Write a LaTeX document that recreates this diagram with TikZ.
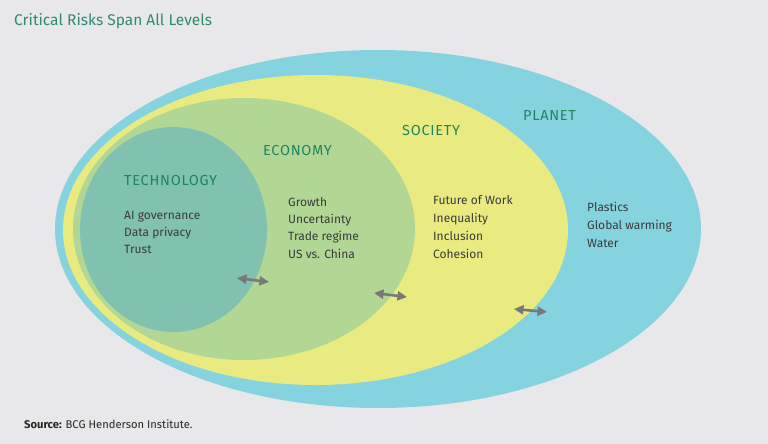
\documentclass[tikz,border=0pt]{standalone}
\usepackage{fontspec}
\setmainfont{Fira Sans}
\newfontfamily\headfont[LetterSpace=5]{Fira Sans}
\usetikzlibrary{shapes.geometric,arrows.meta}
\definecolor{bgc}{HTML}{E8E8EA}
\definecolor{planetc}{HTML}{86D3E0}
\definecolor{societyc}{HTML}{E9EB81}
\definecolor{economyc}{HTML}{B2D794}
\definecolor{techc}{HTML}{80C2AF}
\definecolor{titlec}{HTML}{2E8C6C}
\definecolor{headc}{HTML}{1F8560}
\definecolor{bodyc}{HTML}{3A3A3A}
\definecolor{arrc}{HTML}{787878}
\tikzset{
  ring/.style={ellipse, inner sep=0pt, draw=none},
  head/.style={anchor=base west, inner sep=0pt, text=headc, font=\headfont\fontsize{14.5}{16}\selectfont},
  body/.style={anchor=base west, inner sep=0pt, text=bodyc, font=\fontsize{12}{14}\selectfont},
  link/.style={arrc, line width=2.6pt, {Triangle[length=9.5pt,width=9pt]}-{Triangle[length=9.5pt,width=9pt]}}
}
\begin{document}
\begin{tikzpicture}[x=1pt,y=-1pt]
\fill[bgc] (0,0) rectangle (768,444);
\useasboundingbox (0,0) rectangle (768,444);
\node[ring, fill=planetc, minimum width=646pt, minimum height=358pt] (planet) at (378,229) {};
\node[ring, fill=societyc, minimum width=505pt, minimum height=310pt] (society) at (315.5,230) {};
\node[ring, fill=economyc, minimum width=342pt, minimum height=262pt] (economy) at (244,229) {};
\node[ring, fill=techc, minimum width=187pt, minimum height=205pt] (tech) at (173.5,229.5) {};

\node[anchor=base west, inner sep=0pt, text=titlec, font=\fontsize{15.5}{18}\selectfont] (title) at (14,26) {Critical Risks Span All Levels};

\node[head] (techh) at (124,185) {TECHNOLOGY};
\node[body] (t1) at (124,219) {AI governance};
\node[body] (t2) at (124,236) {Data privacy};
\node[body] (t3) at (124,253) {Trust};

\node[head] (econh) at (263,155) {ECONOMY};
\node[body] (e1) at (288,206) {Growth};
\node[body] (e2) at (288,223.3) {Uncertainty};
\node[body] (e3) at (288,240.6) {Trade regime};
\node[body] (e4) at (288,258) {US vs. China};

\node[head] (soch) at (402,135) {SOCIETY};
\node[body] (s1) at (433,204) {Future of Work};
\node[body] (s2) at (433,222) {Inequality};
\node[body] (s3) at (433,240) {Inclusion};
\node[body] (s4) at (433,258) {Cohesion};

\node[head] (planh) at (523,120) {PLANET};
\node[body] (p1) at (587,211) {Plastics};
\node[body] (p2) at (587,229) {Global warming};
\node[body] (p3) at (587,247) {Water};

\coordinate (a1l) at (237,278); \coordinate (a1r) at (269,282);
\coordinate (a2l) at (374,293); \coordinate (a2r) at (407,297);
\coordinate (a3l) at (514,309); \coordinate (a3r) at (547,312);
\draw[link] (a1l) -- (a1r);
\draw[link] (a2l) -- (a2r);
\draw[link] (a3l) -- (a3r);

\node[anchor=base west, inner sep=0pt, text=black!85, font=\fontsize{11.2}{13}\selectfont] (src) at (24,428) {\textbf{Source:} BCG Henderson Institute.};
\end{tikzpicture}
\end{document}
